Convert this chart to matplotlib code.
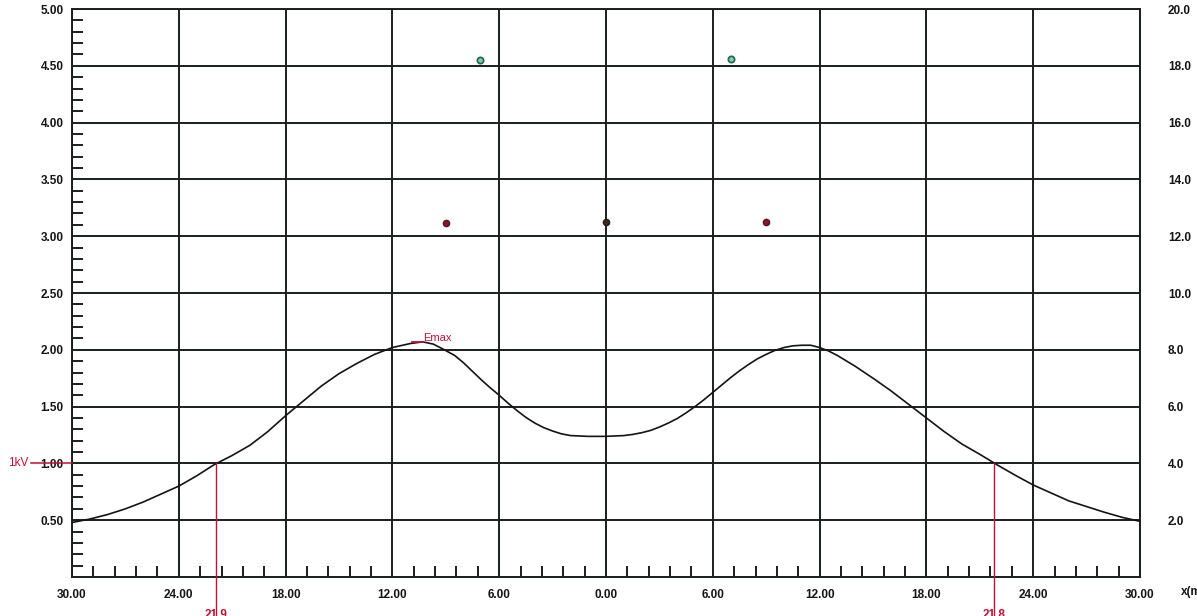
import numpy as np
import matplotlib
matplotlib.use("Agg")
import matplotlib.pyplot as plt

# Field strength profile along the lateral distance (kV/m)
x_m = [-30, -29, -28, -27, -26, -25, -24, -23, -22, -21, -20, -19, -18, -17, -16, -15,
       -14, -13, -12, -11, -10.3, -9.7, -9.2, -8.5, -8, -7.5, -7, -6.5, -6, -5.5, -5, -4.5,
       -4, -3.5, -3, -2.5, -2, -1, 0, 1, 1.5, 2, 2.5, 3, 3.5, 4, 4.5, 5, 5.5, 6, 6.5, 7,
       7.5, 8, 8.5, 9, 9.5, 10, 10.5, 11, 11.5, 12, 12.5, 13, 14, 15, 16, 17, 18, 19, 20,
       21, 22, 23, 24, 25, 26, 27, 28, 29, 30]
e_kv = [0.48, 0.51, 0.55, 0.60, 0.66, 0.73, 0.80, 0.89, 0.99, 1.07, 1.16, 1.28, 1.42,
        1.55, 1.68, 1.79, 1.88, 1.96, 2.02, 2.055, 2.07, 2.05, 2.01, 1.95, 1.885, 1.81,
        1.735, 1.665, 1.60, 1.53, 1.465, 1.405, 1.355, 1.315, 1.285, 1.26, 1.245, 1.238,
        1.238, 1.245, 1.255, 1.27, 1.29, 1.32, 1.355, 1.395, 1.445, 1.50, 1.56, 1.625,
        1.69, 1.755, 1.815, 1.87, 1.92, 1.96, 1.995, 2.02, 2.035, 2.04, 2.04, 2.02, 1.99,
        1.95, 1.855, 1.75, 1.64, 1.52, 1.40, 1.28, 1.17, 1.08, 0.985, 0.895, 0.81, 0.74,
        0.67, 0.62, 0.57, 0.525, 0.49]

# Conductor positions (x in m, height in m on right axis)
phase_x = [-9.0, 0.0, 9.0]
phase_h = [12.45, 12.5, 12.5]
shield_x = [-7.1, 7.0]
shield_h = [18.2, 18.25]

# Limit line and the distances where it is crossed
limit_kv = 1.0
cross_x = [-21.9, 21.8]
emax_x = -10.3
emax_v = 2.07

x_ticks = [-30, -24, -18, -12, -6, 0, 6, 12, 18, 24, 30]
x_minor = [v for v in np.arange(-30, 30.01, 1.2) if abs(v / 6 - round(v / 6)) > 1e-6]
y_ticks = [0.5, 1.0, 1.5, 2.0, 2.5, 3.0, 3.5, 4.0, 4.5, 5.0]
y_minor = [v for v in np.arange(0, 5.001, 0.1) if abs(v / 0.5 - round(v / 0.5)) > 1e-6]
h_ticks = [2, 4, 6, 8, 10, 12, 14, 16, 18, 20]

RED = "#c01035"
GRID = "#1b1f1c"
TXT = "#151515"
plt.rcParams["font.family"] = ["Liberation Sans", "DejaVu Sans"]

W, H = 1197, 616
fig = plt.figure(figsize=(W / 100, H / 100), dpi=100)
ax = fig.add_axes([72 / W, 1 - 577 / H, (1140 - 72) / W, (577 - 9) / H])
ax.set_xlim(-30, 30)
ax.set_ylim(0, 5)

ax.set_xticks(x_ticks)
ax.set_xticklabels([f"{abs(v):.2f}" for v in x_ticks])
ax.set_xticks(x_minor, minor=True)
ax.set_yticks(y_ticks)
ax.set_yticklabels([f"{v:.2f}" for v in y_ticks])
ax.set_yticks(y_minor, minor=True)
ax.grid(True, which="major", color=GRID, linewidth=1.4)
ax.tick_params(which="major", length=0, pad=9, labelsize=8.5, labelcolor=TXT)
ax.tick_params(which="minor", direction="in", length=8, width=1.4, color=GRID)
ax.tick_params(axis="y", which="major", pad=6)
for lab in ax.get_xticklabels() + ax.get_yticklabels():
    lab.set_fontweight("bold")
for s in ax.spines.values():
    s.set_linewidth(1.4)
    s.set_color(GRID)

ax2 = ax.twinx()
ax2.set_ylim(0, 20)
ax2.set_yticks(h_ticks)
ax2.set_yticklabels([f"{v:.1f}" for v in h_ticks])
ax2.tick_params(length=0, pad=20, labelsize=8.5, labelcolor=TXT)
for lab in ax2.get_yticklabels():
    lab.set_fontweight("bold")
for s in ax2.spines.values():
    s.set_visible(False)

# Field profile
ax.plot(x_m, e_kv, color="#141414", linewidth=1.2, zorder=5)

# Conductors
ax2.plot(phase_x[0], phase_h[0], "o", ms=4.5, mfc="#7a1c30", mec="#5a1020", zorder=6)
ax2.plot(phase_x[1], phase_h[1], "o", ms=4.5, mfc="#3a2a22", mec="#2a1a14", zorder=6)
ax2.plot(phase_x[2], phase_h[2], "o", ms=4.5, mfc="#7a1c30", mec="#5a1020", zorder=6)
ax2.plot(shield_x, shield_h, "o", ms=4.5, mfc="#8fc8b0", mec="#1d6e55", mew=1.3, zorder=6)

# Limit marker on the left axis
ax.plot([-32.3, -30], [limit_kv, limit_kv], color=RED, linewidth=1.1, clip_on=False, zorder=6)
ax.text(-32.45, limit_kv, "1kV", color=RED, fontsize=8.5, ha="right", va="center")

# Crossing distances
for cx in cross_x:
    ax.plot([cx, cx], [limit_kv, -0.4], color=RED, linewidth=1.0, clip_on=False, zorder=6)
    ax.text(cx, -0.285, f"{abs(cx):.1f}", color=RED, fontsize=8.5, ha="center", va="top",
            fontweight="bold", clip_on=False)

# Maximum field marker
ax.plot([emax_x - 0.6, emax_x], [emax_v, emax_v], color=RED, linewidth=1.3, zorder=6)
ax.text(emax_x, emax_v + 0.035, "Emax", color=RED, fontsize=8, ha="left", va="center")

fig.text(1181 / W, 1 - 592 / H, "x(m)", fontsize=8.5, fontweight="bold", ha="left", va="center",
         color=TXT)

fig.savefig("out.png", dpi=100, facecolor="white")
